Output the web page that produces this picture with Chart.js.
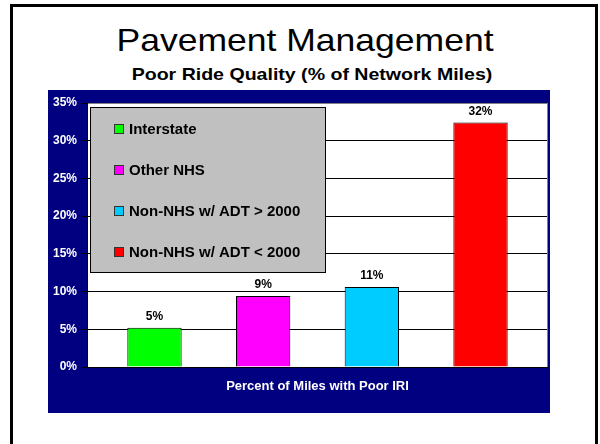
<!DOCTYPE html>
<html>
<head>
<meta charset="utf-8">
<script src="https://cdn.jsdelivr.net/npm/chart.js@4/dist/chart.umd.min.js"></script>
<style>
  body { margin: 0; background: #fff; width: 600px; height: 444px; overflow: hidden; position: relative; font-family: 'Liberation Sans', Arial, sans-serif; }
  #frame { position: absolute; left: 10px; top: 4px; width: 582px; height: 500px; border: 3px solid #000; }
  .ttl { position: absolute; left: 5px; width: 600px; text-align: center; color: #000; white-space: nowrap; }
  #t1 { top: 24px; font-size: 32px; line-height: 32px; transform: scaleX(1.11); }
  #t2 { top: 66px; left: 12px; font-size: 17px; line-height: 17px; font-weight: bold; transform: scaleX(1.15); }
  #wrap { position: absolute; left: 48px; top: 90px; width: 502px; height: 323px; }
</style>
</head>
<body>
<div id="frame"></div>
<div class="ttl" id="t1">Pavement Management</div>
<div class="ttl" id="t2">Poor Ride Quality (% of Network Miles)</div>
<div id="wrap"><canvas id="grafico"></canvas></div>
<script>
// data
const categorias = ['Percent of Miles with Poor IRI'];
const series = ['Interstate', 'Other NHS', 'Non-NHS w/ ADT > 2000', 'Non-NHS w/ ADT < 2000'];
const valores = [5.2, 9.4, 10.6, 32.4];
const cores = ['#00FF00', '#FF00FF', '#00CCFF', '#FF0000'];
const ticksY = [0, 5, 10, 15, 20, 25, 30, 35];

const navy = '#000080';

const fundo = {
  id: 'fundo',
  beforeDraw(chart) {
    const ctx = chart.ctx, a = chart.chartArea;
    ctx.save();
    ctx.fillStyle = navy;
    ctx.fillRect(0, 0, chart.width, chart.height);
    ctx.fillStyle = '#fff';
    ctx.fillRect(a.left, a.top, a.right - a.left, a.bottom - a.top);
    ctx.restore();
  },
  afterDraw(chart) {
    const ctx = chart.ctx, a = chart.chartArea;
    ctx.save();
    ctx.strokeStyle = '#808080';
    ctx.lineWidth = 1;
    ctx.beginPath();
    ctx.moveTo(a.right - 0.5, a.top);
    ctx.lineTo(a.right - 0.5, a.bottom);
    ctx.stroke();
    ctx.restore();
  }
};

const rotulos = {
  id: 'rotulos',
  afterDatasetsDraw(chart) {
    const ctx = chart.ctx;
    ctx.save();
    ctx.font = 'bold 12px "Liberation Sans", Arial, sans-serif';
    ctx.fillStyle = '#000';
    ctx.textAlign = 'center';
    ctx.textBaseline = 'bottom';
    chart.data.datasets.forEach(function(ds, i){
      const bar = chart.getDatasetMeta(i).data[0];
      ctx.fillText(Math.round(ds.data[0]) + '%', bar.x, bar.y - 5);
    });

    // legend box inside the plot
    const a = chart.chartArea;
    const bx = a.left + 3, by = a.top + 4, bw = 236, bh = 166;
    ctx.fillStyle = '#C0C0C0';
    ctx.fillRect(bx, by, bw, bh);
    ctx.strokeStyle = '#000';
    ctx.lineWidth = 1;
    ctx.strokeRect(bx + 0.5, by + 0.5, bw - 1, bh - 1);
    ctx.font = 'bold 15px "Liberation Sans", Arial, sans-serif';
    ctx.textAlign = 'left';
    ctx.textBaseline = 'middle';
    chart.data.datasets.forEach(function(ds, i){
      const cy = by + 22 + i * 41;
      ctx.fillStyle = ds.backgroundColor;
      ctx.fillRect(bx + 24, cy - 5, 10, 10);
      ctx.strokeStyle = '#333';
      ctx.strokeRect(bx + 24.5, cy - 4.5, 9, 9);
      ctx.fillStyle = '#000';
      ctx.fillText(ds.label, bx + 39, cy + 1);
    });
    ctx.restore();
  }
};

const ctx = document.getElementById('grafico').getContext('2d');
new Chart(ctx, {
  type: 'bar',
  data: {
    labels: categorias,
    datasets: series.map(function(nome, i){
      return {
        label: nome,
        data: [valores[i]],
        backgroundColor: cores[i],
        borderColor: '#000',
        borderWidth: 1,
        categoryPercentage: 0.943,
        barPercentage: 0.5
      };
    })
  },
  options: {
    responsive: true,
    maintainAspectRatio: false,
    animation: false,
    layout: { padding: { top: 13, right: 2, left: 0, bottom: 0 } },
    scales: {
      x: {
        grid: { display: false, drawTicks: false },
        border: { display: true, color: '#000', width: 1 },
        ticks: {
          color: '#fff',
          padding: 12,
          font: { family: '"Liberation Sans", Arial, sans-serif', size: 13, weight: 'bold' }
        },
        afterFit: function(scale){ scale.height = 46; }
      },
      y: {
        min: 0,
        max: 35,
        afterBuildTicks: function(scale){
          scale.ticks = ticksY.map(function(v){ return { value: v }; });
        },
        grid: {
          color: function(c){ return c.tick && c.tick.value === 35 ? '#808080' : '#000'; },
          tickColor: '#000',
          tickLength: 5,
          drawTicks: true
        },
        border: { display: true, color: '#000', width: 1 },
        ticks: {
          color: '#fff',
          padding: 5,
          font: { family: '"Liberation Sans", Arial, sans-serif', size: 12, weight: 'bold' },
          callback: function(v){ return v + '%'; }
        },
        afterFit: function(scale){ scale.width = 39; }
      }
    },
    plugins: {
      legend: { display: false },
      tooltip: { enabled: false }
    }
  },
  plugins: [fundo, rotulos]
});
</script>
</body>
</html>
